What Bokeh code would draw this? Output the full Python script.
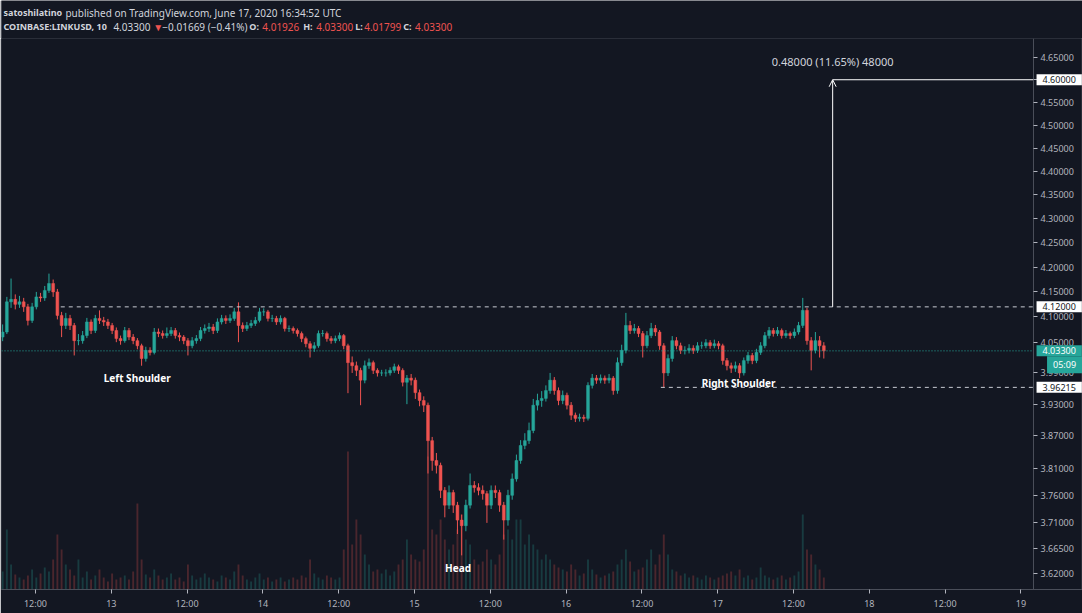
from bokeh.plotting import figure
from bokeh.layouts import column
from bokeh.models import (Range1d, LinearScale, FixedTicker, PrintfTickFormatter,
                          CustomJSTickFormatter, Label, Arrow, OpenHead, ColumnDataSource)
from bokeh.core.properties import value
from bokeh.embed import file_html
from bokeh.resources import INLINE

# ---------------- data ----------------
first_open = 4.060
closes = [
    4.070, 4.130, 4.135, 4.125, 4.130, 4.120, 4.093, 4.120, 4.140, 4.138,
    4.153, 4.167, 4.150, 4.103, 4.083, 4.097, 4.083, 4.053, 4.053, 4.063,
    4.090, 4.073, 4.097, 4.093, 4.090, 4.083, 4.073, 4.057, 4.053, 4.073,
    4.060, 4.053, 4.043, 4.018, 4.034, 4.030, 4.070, 4.067, 4.063, 4.067,
    4.073, 4.063, 4.060, 4.053, 4.043, 4.053, 4.057, 4.073, 4.077, 4.080,
    4.073, 4.090, 4.097, 4.093, 4.097, 4.110, 4.083, 4.077, 4.083, 4.087,
    4.093, 4.110, 4.110, 4.097, 4.097, 4.090, 4.097, 4.077, 4.077, 4.073,
    4.067, 4.057, 4.047, 4.038, 4.043, 4.067, 4.067, 4.057, 4.053, 4.057,
    4.063, 4.043, 4.010, 4.004, 3.995, 3.976, 4.004, 4.010, 3.995, 3.990,
    3.990, 3.990, 3.995, 4.002, 3.995, 3.972, 3.980, 3.976, 3.952, 3.937,
    3.928, 3.861, 3.824, 3.815, 3.769, 3.742, 3.765, 3.742, 3.715, 3.705,
    3.742, 3.778, 3.774, 3.769, 3.763, 3.742, 3.769, 3.765, 3.742, 3.715,
    3.760, 3.790, 3.824, 3.852, 3.861, 3.880, 3.928, 3.937, 3.941, 3.956,
    3.976, 3.956, 3.937, 3.947, 3.928, 3.909, 3.903, 3.905, 3.903, 3.966,
    3.980, 3.976, 3.980, 3.976, 3.980, 3.956, 4.010, 4.034, 4.083, 4.073,
    4.077, 4.067, 4.043, 4.063, 4.077, 4.070, 4.043, 3.990, 4.018, 4.053,
    4.043, 4.034, 4.034, 4.038, 4.034, 4.043, 4.043, 4.049, 4.043, 4.047,
    4.043, 4.014, 4.004, 3.999, 4.004, 3.990, 4.014, 4.024, 4.014, 4.030,
    4.043, 4.063, 4.073, 4.067, 4.073, 4.063, 4.067, 4.063, 4.070, 4.083,
    4.113, 4.053, 4.034, 4.053, 4.043, 4.033,
]
highs = [
    4.085, 4.140, 4.177, 4.145, 4.142, 4.138, 4.126, 4.128, 4.150, 4.148,
    4.162, 4.187, 4.175, 4.156, 4.110, 4.108, 4.104, 4.088, 4.066, 4.072,
    4.098, 4.095, 4.104, 4.113, 4.100, 4.096, 4.088, 4.079, 4.063, 4.080,
    4.078, 4.066, 4.058, 4.047, 4.041, 4.040, 4.078, 4.077, 4.073, 4.079,
    4.080, 4.078, 4.069, 4.064, 4.058, 4.060, 4.064, 4.080, 4.085, 4.088,
    4.086, 4.097, 4.104, 4.103, 4.105, 4.118, 4.129, 4.089, 4.090, 4.094,
    4.100, 4.118, 4.117, 4.114, 4.104, 4.102, 4.103, 4.100, 4.083, 4.081,
    4.077, 4.071, 4.061, 4.052, 4.050, 4.073, 4.074, 4.071, 4.062, 4.063,
    4.069, 4.066, 4.047, 4.022, 4.012, 4.000, 4.014, 4.018, 4.014, 3.999,
    3.996, 3.997, 4.001, 4.008, 4.006, 3.999, 3.986, 3.988, 3.981, 3.958,
    3.945, 3.933, 3.868, 3.838, 3.820, 3.775, 3.778, 3.770, 3.748, 3.725,
    3.752, 3.800, 3.786, 3.782, 3.778, 3.768, 3.778, 3.778, 3.770, 3.748,
    3.770, 3.800, 3.835, 3.862, 3.875, 3.895, 3.940, 3.950, 3.955, 3.966,
    3.990, 3.982, 3.962, 3.956, 3.952, 3.934, 3.914, 3.912, 3.910, 3.972,
    3.988, 3.986, 3.987, 3.985, 3.988, 3.984, 4.020, 4.045, 4.108, 4.092,
    4.086, 4.082, 4.072, 4.072, 4.088, 4.084, 4.074, 4.048, 4.026, 4.062,
    4.060, 4.049, 4.042, 4.046, 4.044, 4.050, 4.051, 4.056, 4.054, 4.055,
    4.052, 4.047, 4.019, 4.010, 4.012, 4.009, 4.020, 4.031, 4.029, 4.037,
    4.050, 4.070, 4.080, 4.078, 4.080, 4.077, 4.074, 4.071, 4.077, 4.090,
    4.138, 4.118, 4.060, 4.070, 4.062, 4.050,
]
lows = [
    4.052, 4.066, 4.118, 4.115, 4.118, 4.110, 4.083, 4.088, 4.115, 4.130,
    4.132, 4.148, 4.140, 4.095, 4.060, 4.076, 4.074, 4.024, 4.044, 4.047,
    4.058, 4.066, 4.068, 4.086, 4.082, 4.076, 4.066, 4.050, 4.045, 4.049,
    4.054, 4.046, 4.036, 4.004, 4.012, 4.024, 4.026, 4.060, 4.057, 4.058,
    4.062, 4.057, 4.052, 4.046, 4.024, 4.038, 4.047, 4.052, 4.067, 4.070,
    4.066, 4.068, 4.085, 4.086, 4.088, 4.092, 4.050, 4.070, 4.072, 4.078,
    4.082, 4.089, 4.102, 4.091, 4.090, 4.084, 4.085, 4.071, 4.070, 4.067,
    4.061, 4.050, 4.040, 4.020, 4.031, 4.039, 4.061, 4.051, 4.047, 4.048,
    4.052, 4.036, 3.951, 3.990, 3.984, 3.928, 3.970, 3.998, 3.988, 3.983,
    3.984, 3.983, 3.985, 3.990, 3.988, 3.964, 3.930, 3.966, 3.940, 3.926,
    3.915, 3.800, 3.805, 3.800, 3.755, 3.720, 3.735, 3.728, 3.690, 3.652,
    3.695, 3.736, 3.765, 3.760, 3.752, 3.710, 3.735, 3.755, 3.730, 3.680,
    3.705, 3.752, 3.785, 3.818, 3.845, 3.855, 3.875, 3.918, 3.925, 3.935,
    3.950, 3.948, 3.928, 3.930, 3.920, 3.900, 3.896, 3.897, 3.896, 3.899,
    3.960, 3.969, 3.970, 3.969, 3.970, 3.948, 3.950, 4.004, 4.028, 4.066,
    4.067, 4.060, 4.020, 4.038, 4.058, 4.062, 4.035, 3.962, 3.984, 4.012,
    4.036, 4.027, 4.026, 4.028, 4.027, 4.029, 4.037, 4.038, 4.037, 4.038,
    4.036, 4.006, 3.995, 3.990, 3.992, 3.980, 3.985, 4.008, 4.007, 4.009,
    4.025, 4.038, 4.057, 4.061, 4.062, 4.057, 4.058, 4.056, 4.058, 4.065,
    4.078, 4.045, 3.995, 4.028, 4.020, 4.018,
]
volumes = [
    18, 60, 25, 15, 12, 10, 14, 20, 12, 16,
    22, 18, 30, 55, 40, 25, 20, 14, 30, 12,
    18, 10, 14, 20, 12, 8, 16, 10, 12, 14,
    10, 18, 86, 30, 15, 12, 20, 14, 10, 12,
    16, 10, 12, 8, 25, 14, 10, 12, 16, 12,
    10, 8, 14, 12, 10, 18, 25, 14, 10, 8,
    12, 16, 10, 12, 8, 10, 12, 8, 10, 12,
    10, 14, 12, 30, 16, 12, 10, 14, 12, 10,
    12, 40, 138, 45, 70, 55, 35, 25, 18, 20,
    16, 20, 14, 18, 25, 30, 50, 35, 30, 28,
    40, 133, 60, 55, 70, 50, 40, 45, 60, 75,
    50, 45, 30, 25, 28, 40, 30, 25, 35, 55,
    60, 50, 70, 70, 45, 55, 45, 40, 30, 35,
    30, 25, 22, 20, 18, 25, 20, 14, 16, 30,
    20, 15, 12, 14, 16, 18, 25, 30, 40, 28,
    18, 20, 22, 30, 40, 25, 35, 55, 35, 20,
    18, 14, 16, 12, 14, 12, 10, 14, 12, 10,
    12, 14, 16, 18, 14, 20, 12, 14, 10, 12,
    22, 14, 12, 10, 12, 14, 10, 12, 14, 18,
    75, 40, 35, 25, 20, 12,
]
# bar times: hours since 2020-06-12 00:00 UTC (40-minute candles)
start_hour = 6.8
bar_hours = 2 / 3
times = [start_hour + i * bar_hours for i in range(len(closes))]

price_ticks = [4.65, 4.60, 4.55, 4.50, 4.45, 4.40, 4.35, 4.30, 4.25, 4.20, 4.15,
               4.10, 4.05, 3.99, 3.93, 3.87, 3.81, 3.76, 3.71, 3.665, 3.62]
time_ticks = [12, 24, 36, 48, 60, 72, 84, 96, 108, 120, 132, 144, 156, 168]

axis_h = 170.0            # time at which the price scale sits
neckline = 4.12
neck_start_h = 16.0
right_shoulder_level = 3.96215
rs_start_h = 111.0
target = 4.60
measure_h = 138.2
last_price = 4.033
countdown = "05:09"

pattern_names = ["Left Shoulder", "Head", "Right Shoulder"]
pattern_h = [28.1, 78.9, 123.3]
pattern_p = [3.981, 3.629, 3.971]

header_line1 = ["satoshilatino", "published on TradingView.com, June 17, 2020 16:34:52 UTC"]
header_line2 = ["COINBASE:LINKUSD, 10", "4.03300", "\u25bc", "\u22120.01669 (\u22120.41%)",
                "O:", "4.01926", "H:", "4.03300", "L:", "4.01799", "C:", "4.03300"]

# ---------------- style ----------------
BG = "#131722"
UP = "#26a69a"
DOWN = "#ef5350"
TXT = "#d1d4dc"
AX = "#b2b5be"
LINE = "#4a4e59"
BORDER = "#2a2e39"
FONT = "Noto Sans"

# ---------------- header strip ----------------
hdr = figure(width=1082, height=38, output_backend="svg", toolbar_location=None,
             x_range=Range1d(0, 1082), y_range=Range1d(38, 0),
             min_border=0, x_axis_location=None, y_axis_location=None)
hdr.background_fill_color = BG
hdr.border_fill_color = BG
hdr.outline_line_color = None
hdr.grid.visible = False
h1x = [2, 64]
h1style = ["bold", "normal"]
for t, x, st in zip(header_line1, h1x, h1style):
    hdr.text(x=[x], y=[12], text=[t], text_font=value(FONT),
             text_font_size="9px" if st == "bold" else "10px",
             text_color=TXT, text_baseline="middle", text_font_style=st)
h2x = [2, 112, 152, 161, 248, 261, 302, 315, 354, 363, 402, 414]
h2col = [TXT, TXT, DOWN, TXT, TXT, DOWN, TXT, DOWN, TXT, DOWN, TXT, DOWN]
h2style = ["bold", "normal", "normal", "normal", "bold", "normal", "bold", "normal",
           "bold", "normal", "bold", "normal"]
for t, x, c, st in zip(header_line2, h2x, h2col, h2style):
    hdr.text(x=[x], y=[26], text=[t], text_font=value(FONT),
             text_font_size="9px" if st == "bold" else "10px",
             text_color=c, text_baseline="middle", text_font_style=st)

# ---------------- main chart ----------------
opens = [first_open] + closes[:-1]
colors = [UP if c >= o else DOWN for o, c in zip(opens, closes)]
src = ColumnDataSource(dict(
    t=times, o=opens, c=closes, h=highs, l=lows, v=volumes, col=colors,
    top=[max(o, c) for o, c in zip(opens, closes)],
    bot=[min(o, c) for o, c in zip(opens, closes)],
))

p = figure(width=1082, height=575, output_backend="svg", toolbar_location=None,
           y_axis_type="log", y_axis_location="right",
           x_range=Range1d(6.62, 177.75), y_range=Range1d(3.592, 4.693),
           min_border_left=1, min_border_right=0, min_border_top=0, min_border_bottom=24)
p.background_fill_color = BG
p.border_fill_color = BG
p.outline_line_color = BORDER
p.grid.visible = False

p.extra_y_ranges = {"vol": Range1d(0, 551)}
p.extra_y_scales = {"vol": LinearScale()}

p.vbar(x="t", width=0.3, bottom=0, top="v", source=src, y_range_name="vol",
       fill_color="col", fill_alpha=0.25, line_color=None)
p.segment(x0="t", y0="l", x1="t", y1="h", source=src, line_color="col", line_width=1)
p.vbar(x="t", width=0.45, bottom="bot", top="top", source=src, fill_color="col",
       line_color="col", line_width=0.5)

p.segment(x0=[6.62], x1=[axis_h], y0=[last_price], y1=[last_price], line_color=UP,
          line_dash="1 2", line_width=1)
p.segment(x0=[neck_start_h], x1=[axis_h], y0=[neckline], y1=[neckline], line_color="#c8cbd3",
          line_dash="4 4", line_width=1)
p.segment(x0=[rs_start_h], x1=[axis_h], y0=[right_shoulder_level], y1=[right_shoulder_level],
          line_color="#c8cbd3", line_dash="4 4", line_width=1)
p.add_layout(Arrow(end=OpenHead(size=7, line_color="white", line_width=1),
                   x_start=measure_h, y_start=neckline, x_end=measure_h, y_end=target,
                   line_color="white", line_width=1))
p.segment(x0=[measure_h], x1=[axis_h], y0=[target], y1=[target], line_color="white", line_width=1)
diff = target - neckline
p.add_layout(Label(x=measure_h, y=target, y_offset=18,
                   text=f"{diff:.5f} ({diff / neckline * 100:.2f}%) {round(diff * 1e5)}",
                   text_align="center", text_baseline="middle", text_color=TXT,
                   text_font=FONT, text_font_size="11px"))

for name, hh, pp in zip(pattern_names, pattern_h, pattern_p):
    p.add_layout(Label(x=hh, y=pp, text=name, text_align="center", text_baseline="middle",
                       text_color="white", text_font=FONT, text_font_size="10px",
                       text_font_style="bold"))

# price scale drawn at a fixed time location so that the tags can sit on it
ya = p.yaxis[0]
ya.fixed_location = axis_h
ya.ticker = FixedTicker(ticks=price_ticks)
ya.formatter = PrintfTickFormatter(format="%.5f")
ya.axis_line_color = LINE
ya.major_tick_line_color = AX
ya.major_tick_out = 4
ya.major_tick_in = 0
ya.minor_tick_line_color = None
ya.major_label_standoff = 3
ya.major_label_text_color = AX
ya.major_label_text_font = FONT
ya.major_label_text_font_size = "9px"

xa = p.xaxis[0]
xa.ticker = FixedTicker(ticks=time_ticks)
xa.formatter = CustomJSTickFormatter(code="""
const h = Math.round(tick);
if (h % 24 == 12) { return '12:00'; }
return String(12 + h / 24);
""")
xa.axis_line_color = LINE
xa.major_tick_line_color = AX
xa.major_tick_out = 4
xa.major_tick_in = 0
xa.minor_tick_line_color = None
xa.major_label_standoff = 3
xa.major_label_text_color = AX
xa.major_label_text_font = FONT
xa.major_label_text_font_size = "9px"

def tag(price, text, fill, color, yoff=0, xoff=3, align="left"):
    p.add_layout(Label(x=axis_h, y=price, x_offset=xoff, y_offset=yoff, text=text,
                       text_align=align, text_baseline="middle", text_color=color,
                       text_font=FONT, text_font_size="9px",
                       background_fill_color=fill, padding=(6, 2), level="overlay"))

tag(target, f"{target:.5f}", "white", BG)
tag(neckline, f"{neckline:.5f}", "white", BG)
tag(last_price, f"{last_price:.5f}", UP, "white")
tag(last_price, countdown, UP, "white", yoff=-14, xoff=31, align="center")
tag(right_shoulder_level, f"{right_shoulder_level:.5f}", "white", BG)

open("out.html", "w").write(file_html(column(hdr, p, spacing=0), INLINE))
